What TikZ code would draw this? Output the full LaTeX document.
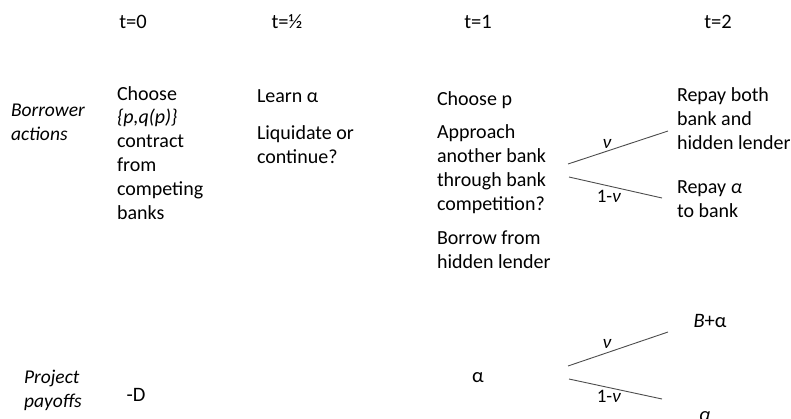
\documentclass[tikz,border=0pt]{standalone}
\usepackage{fontspec}
\setmainfont{Carlito}
\begin{document}
\begin{tikzpicture}[x=1pt,y=-1pt,
  every node/.style={inner sep=0pt,outer sep=0pt},
  txt/.style={anchor=base west,align=left,font=\fontsize{20}{23.8}\selectfont},
  hdr/.style={anchor=base,font=\fontsize{20.5}{24}\selectfont},
  lbl/.style={anchor=base,font=\fontsize{19}{22}\selectfont\itshape},
  lblup/.style={anchor=base,font=\fontsize{19}{22}\selectfont},
  branch/.style={draw=black!70,line width=0.9pt}]
\useasboundingbox (0,0) rectangle (791,418);
% headers
\node[hdr] (t0) at (133,28) {t=0};
\node[hdr] (th) at (287,28) {t=½};
\node[hdr] (t1) at (478,28) {t=1};
\node[hdr] (t2) at (718,28) {t=2};
% row labels (anchor at last line's baseline)
\node[txt,font=\fontsize{19.5}{23.5}\selectfont\itshape] (ba) at (11,140) {Borrower\\actions};
\node[txt,font=\fontsize{19.5}{23.5}\selectfont\itshape] (pp) at (24,407) {Project\\payoffs};
% column t=0
\node[txt] (c0) at (117,219) {Choose\\\textit{\{p,q(p)\}}\\contract\\from\\competing\\banks};
% column t=1/2
\node[txt] (c1a) at (257,102) {Learn α};
\node[txt] (c1b) at (257,163) {Liquidate or\\continue?};
% column t=1
\node[txt] (c2a) at (437,105) {Choose p};
\node[txt] (c2b) at (437,210) {Approach\\another bank\\through bank\\competition?};
\node[txt] (c2c) at (437,268) {Borrow from\\hidden lender};
% column t=2
\node[txt] (c3a) at (677,149) {Repay both\\bank and\\hidden lender};
\node[txt] (c3b) at (677,217) {Repay \textit{α}\\to bank};
% branches (actions)
\coordinate (a0u) at (568,164);
\coordinate (a1u) at (668,131);
\coordinate (a0d) at (569,177);
\coordinate (a1d) at (662,198);
\draw[branch] (a0u) -- (a1u);
\draw[branch] (a0d) -- (a1d);
\node[lbl] (nu1) at (607,148) {ν};
\node[lblup] (mnu1) at (609,202) {1-\textit{ν}};
% payoffs
\node[hdr] (pD) at (136,401) {-D};
\node[hdr] (pa) at (478,382) {α};
\node[hdr] (pB) at (710,327) {\textit{B}+α};
\node[hdr] (pa2) at (705,421) {\textit{α}};
\coordinate (b0u) at (568,366);
\coordinate (b1u) at (668,332);
\coordinate (b0d) at (569,379);
\coordinate (b1d) at (662,399);
\draw[branch] (b0u) -- (b1u);
\draw[branch] (b0d) -- (b1d);
\node[lbl] (nu2) at (607,348) {ν};
\node[lblup] (mnu2) at (609,402) {1-\textit{ν}};
\end{tikzpicture}
\end{document}
